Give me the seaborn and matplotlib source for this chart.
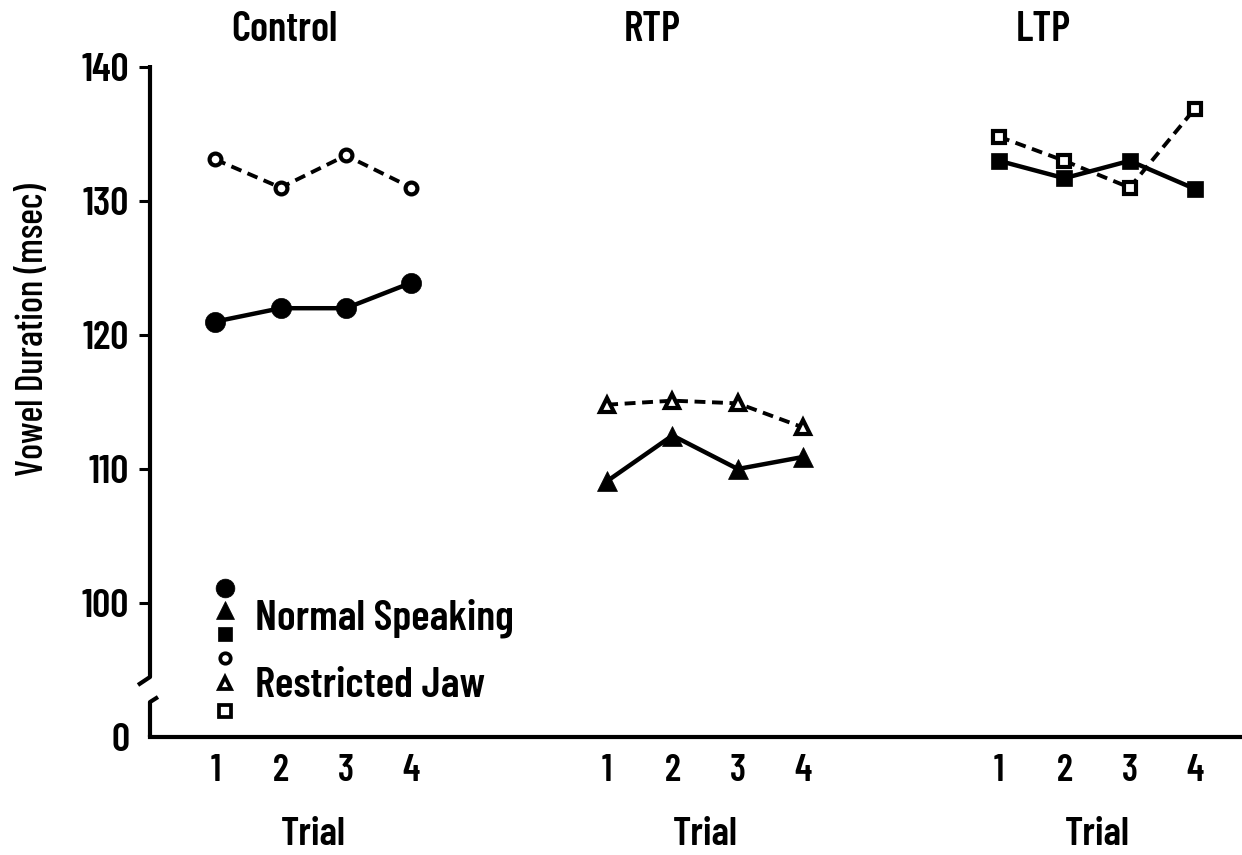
import numpy as np
import pandas as pd
import matplotlib
matplotlib.use("Agg")
import matplotlib.pyplot as plt
import matplotlib.transforms as mtransforms
import seaborn as sns

# ---- data -------------------------------------------------------------
trials = [1, 2, 3, 4]
groups = ["Control", "RTP", "LTP"]
conditions = ["Normal Speaking", "Restricted Jaw"]

control_normal = [121.0, 122.0, 122.0, 123.9]
control_jaw = [133.1, 131.0, 133.4, 131.0]
rtp_normal = [109.1, 112.5, 110.0, 110.9]
rtp_jaw = [114.8, 115.1, 114.9, 113.1]
ltp_normal = [133.0, 131.7, 133.0, 130.9]
ltp_jaw = [134.8, 133.0, 131.0, 136.9]

y_ticks = [100, 110, 120, 130, 140]
y_label = "Vowel Duration (msec)"
x_label = "Trial"

# ---- styling ----------------------------------------------------------
sns.set_theme(style="white")
plt.rcParams["font.family"] = ["Barlow Condensed", "IBM Plex Sans Condensed",
                               "DejaVu Sans"]
for k in ["text.color", "axes.labelcolor", "xtick.color", "ytick.color"]:
    plt.rcParams[k] = "black"
BOLD = dict(fontweight="semibold")
INK = "black"

series = {
    ("Control", "Normal Speaking"): control_normal,
    ("Control", "Restricted Jaw"): control_jaw,
    ("RTP", "Normal Speaking"): rtp_normal,
    ("RTP", "Restricted Jaw"): rtp_jaw,
    ("LTP", "Normal Speaking"): ltp_normal,
    ("LTP", "Restricted Jaw"): ltp_jaw,
}
group_offset = {"Control": 0, "RTP": 6, "LTP": 12}
group_marker = {"Control": "o", "RTP": "^", "LTP": "s"}
filled_size = {"o": 14.5, "^": 14.0, "s": 11.0}
open_size = {"o": 8.5, "^": 10.0, "s": 8.5}

rows = []
for (g, c), vals in series.items():
    for t, v in zip(trials, vals):
        rows.append(dict(group=g, condition=c, trial=t,
                         pos=t + group_offset[g], duration=v))
df = pd.DataFrame(rows)

fig = plt.figure(figsize=(12.42, 8.55), dpi=100)
ax = fig.add_axes([150 / 1242, 1 - 737 / 855, 1092 / 1242, 672 / 855])

for (g, c), sub in df.groupby(["group", "condition"], sort=False):
    m = group_marker[g]
    if c == "Normal Speaking":
        kw = dict(linestyle="-", linewidth=3.2, marker=m,
                  markersize=filled_size[m], markerfacecolor=INK,
                  markeredgecolor=INK, markeredgewidth=0.5)
    else:
        kw = dict(linestyle=(0, (2.8, 1.7)), linewidth=2.8, marker=m,
                  markersize=open_size[m], markerfacecolor="white",
                  markeredgecolor=INK, markeredgewidth=3.0)
    sns.lineplot(data=sub, x="pos", y="duration", ax=ax, color=INK,
                 errorbar=None, legend=False, **kw)

# ---- axes -------------------------------------------------------------
ax.set_xlim(0.0, 16.72)
ax.set_ylim(90.0, 140.15)
for s in ["top", "right", "left"]:
    ax.spines[s].set_visible(False)
ax.spines["bottom"].set_linewidth(3.0)
ax.spines["bottom"].set_color(INK)

xpos = [t + group_offset[g] for g in groups for t in trials]
ax.set_xticks(xpos)
ax.set_xticklabels([str(t) for g in groups for t in trials],
                   fontsize=27, **BOLD)
ax.tick_params(axis="x", direction="inout", length=16, width=2.4,
               pad=4, color=INK)

ax.set_yticks([90.0] + y_ticks)
ax.set_yticklabels(["0"] + [str(v) for v in y_ticks], fontsize=29, **BOLD)
ax.tick_params(axis="y", direction="out", length=8, width=2.2, pad=7,
               color=INK, left=True)
ax.yaxis.get_major_ticks()[0].tick1line.set_visible(False)
ax.set_xlabel("")
ax.set_ylabel(y_label, fontsize=27, fontweight="medium")
ax.yaxis.set_label_coords(-0.092, 0.606)

# broken vertical axis
ax.plot([0, 0, -0.011], [1.0, 0.0893, 0.0774], transform=ax.transAxes,
        color=INK, lw=3.0, clip_on=False, solid_capstyle="butt")
ax.plot([0.0073, 0.0, 0.0], [0.0595, 0.052, 0.0], transform=ax.transAxes,
        color=INK, lw=3.0, clip_on=False, solid_capstyle="butt")

# group titles and trial labels
blend = mtransforms.blended_transform_factory(ax.transData, ax.transAxes)
for g in groups:
    off = group_offset[g]
    ax.text(off + 1.25, 1.052, g, transform=blend, ha="left", va="center",
            fontsize=30, **BOLD)
    ax.text(off + 2.5, -0.146, x_label, transform=blend, ha="center",
            va="center", fontsize=29, **BOLD)

# legend keys
key_x = 0.0687
keys = [("o", True, 0.2217, 13.5), ("^", True, 0.189, 12.5),
        ("s", True, 0.1533, 10.0), ("o", False, 0.1176, 7.5),
        ("^", False, 0.0804, 9.0), ("s", False, 0.0387, 8.0)]
for m, filled, ky, ms in keys:
    ax.plot([key_x], [ky], transform=ax.transAxes, clip_on=False,
            marker=m, markersize=ms, linestyle="none",
            markerfacecolor=INK if filled else "white",
            markeredgecolor=INK, markeredgewidth=0.5 if filled else 2.7)
ax.text(0.0962, 0.177, conditions[0], transform=ax.transAxes,
        ha="left", va="center", fontsize=31, **BOLD)
ax.text(0.0962, 0.0759, conditions[1], transform=ax.transAxes,
        ha="left", va="center", fontsize=31, **BOLD)

fig.savefig("out.png", dpi=100, facecolor="white")
